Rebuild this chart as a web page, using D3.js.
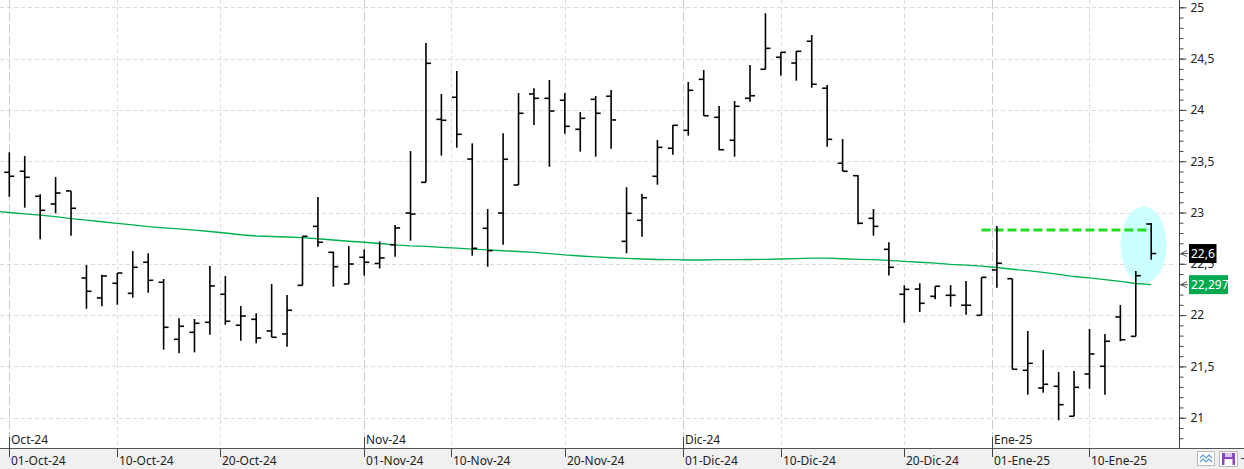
<!DOCTYPE html>
<html>
<head>
<meta charset="utf-8">
<title>OHLC diario</title>
<style>
body { margin: 0; background: #ffffff; }
svg { display: block; font-family: "Noto Sans", "Open Sans", sans-serif; }
</style>
</head>
<body>
<div id="chart"></div>
<script src="https://d3js.org/d3.v7.min.js"></script>
<script>
// Daily bars, 01-Oct-24 .. 16-Ene-25 (trading days only)
var opens = [23.392, 23.402, 23.158, 23.083, 23.21, 22.362, 22.167, 22.31, 22.212, 22.515,
  22.32, 21.764, 21.832, 21.93, 22.203, 21.901, 21.959, 21.845, 21.816, 22.29,
  22.865, 22.612, 22.303, 22.563, 22.503, 22.686, 22.995, 23.294, 23.908, 24.123,
  23.521, 22.846, 22.995, 23.268, 24.155, 24.113, 24.094, 23.811, 24.103, 24.133,
  22.719, 22.924, 23.353, 23.626, 23.801, 24.298, 23.928, 23.704, 24.113, 24.396,
  24.513, 24.457, 24.669, 24.211, 23.48, 23.359, 22.943, 22.641, 22.203, 22.254,
  22.183, 22.193, 22.096, 21.998, 22.44, 22.355, 21.462, 21.289, 21.306, 21.014,
  21.426, 21.501, 21.982, 21.793, 22.888];
var highs = [23.587, 23.551, 23.177, 23.346, 23.21, 22.488, 22.394, 22.41, 22.625, 22.602,
  22.352, 21.969, 21.962, 22.479, 22.381, 22.089, 22.018, 22.303, 22.196, 22.768,
  23.151, 22.618, 22.673, 22.641, 22.717, 22.878, 23.599, 24.652, 24.155, 24.379,
  23.674, 23.034, 23.772, 24.165, 24.211, 24.291, 24.165, 23.98, 24.135, 24.194,
  23.246, 23.18, 23.707, 23.853, 24.272, 24.389, 24.038, 24.087, 24.438, 24.942,
  24.561, 24.574, 24.73, 24.243, 23.716, 23.363, 23.034, 22.71, 22.29, 22.31,
  22.281, 22.293, 22.332, 22.368, 22.868, 22.355, 21.845, 21.66, 21.445, 21.455,
  21.865, 21.816, 22.098, 22.43, 22.898];
var lows = [23.154, 23.047, 22.739, 22.992, 22.774, 22.062, 22.086, 22.101, 22.17, 22.218,
  21.663, 21.628, 21.637, 21.809, 21.906, 21.75, 21.725, 21.784, 21.692, 22.29,
  22.667, 22.277, 22.303, 22.384, 22.454, 22.569, 22.725, 23.294, 23.554, 23.632,
  22.579, 22.472, 22.686, 23.268, 23.853, 23.446, 23.768, 23.593, 23.544, 23.622,
  22.602, 22.764, 23.271, 23.563, 23.749, 23.943, 23.606, 23.544, 24.08, 24.396,
  24.333, 24.285, 24.216, 23.641, 23.402, 22.885, 22.774, 22.386, 21.926, 22.03,
  22.154, 22.082, 22.004, 21.998, 22.267, 21.472, 21.224, 21.244, 20.975, 21.014,
  21.283, 21.224, 21.745, 21.793, 22.54];
var closes = [23.353, 23.343, 23.021, 23.19, 23.041, 22.232, 22.381, 22.41, 22.466, 22.339,
  21.881, 21.891, 21.92, 22.284, 21.94, 21.991, 21.777, 21.784, 22.047, 22.768,
  22.71, 22.472, 22.498, 22.515, 22.557, 22.849, 22.985, 24.454, 23.899, 23.762,
  22.651, 22.628, 23.519, 23.967, 24.113, 23.989, 23.84, 23.918, 23.967, 23.902,
  22.992, 23.144, 23.635, 23.85, 24.191, 23.943, 23.612, 24.035, 24.138, 24.6,
  24.561, 24.571, 24.25, 23.713, 23.402, 22.895, 22.865, 22.466, 22.251, 22.115,
  22.281, 22.193, 22.096, 22.368, 22.505, 21.472, 21.53, 21.326, 21.127, 21.296,
  21.621, 21.745, 21.76, 22.384, 22.6];
// moving average, first value belongs to 30-Sep-24
var ma = [23.015, 23.0, 22.987, 22.974, 22.96, 22.94, 22.925, 22.91, 22.894, 22.88,
  22.863, 22.851, 22.84, 22.828, 22.815, 22.8, 22.783, 22.771, 22.766, 22.761,
  22.756, 22.744, 22.732, 22.72, 22.71, 22.698, 22.685, 22.675, 22.669, 22.66,
  22.652, 22.644, 22.635, 22.627, 22.62, 22.612, 22.6, 22.586, 22.576, 22.568,
  22.559, 22.552, 22.547, 22.542, 22.54, 22.537, 22.537, 22.54, 22.541, 22.542,
  22.544, 22.547, 22.55, 22.555, 22.555, 22.549, 22.544, 22.54, 22.534, 22.524,
  22.515, 22.506, 22.495, 22.488, 22.477, 22.464, 22.447, 22.433, 22.416, 22.396,
  22.376, 22.362, 22.346, 22.328, 22.308, 22.297];

var holidays = ["2024-12-25", "2024-12-26", "2025-01-01"];
var dayTicks = ["2024-10-01", "2024-10-10", "2024-10-20", "2024-11-01", "2024-11-10", "2024-11-20",
  "2024-12-01", "2024-12-10", "2024-12-20", "2025-01-01", "2025-01-10"];
var monthNames = ["Ene", "Feb", "Mar", "Abr", "May", "Jun", "Jul", "Ago", "Sep", "Oct", "Nov", "Dic"];
var yMajor = [21, 21.5, 22, 22.5, 23, 23.5, 24, 24.5, 25];

// annotations
var levelLine = { from: 63, to: 74, value: 22.83 };
var mark = { at: 73.5, value: 22.683 };

var W = 1244, H = 469, plotW = 1179, axisY = 448;

var parse = d3.timeParse("%Y-%m-%d"), iso = d3.timeFormat("%Y-%m-%d");
var days = d3.timeDay.range(new Date(2024, 9, 1), new Date(2025, 0, 17))
  .filter(function(d) { return d.getDay() % 6 !== 0 && holidays.indexOf(iso(d)) < 0; });

function dayIndex(s) {
  var d = parse(s);
  var i = d3.bisectLeft(days, d);
  return +days[i] === +d ? i : i - 0.35;
}

var es = d3.formatLocale({ decimal: ",", thousands: ".", grouping: [3], currency: ["", "€"] });
var fmt = es.format("~g");

var x = d3.scaleLinear().domain([-0.603, 75.8]).range([0, plotW]);
var y = d3.scaleLinear().domain([21, 25]).range([417.7, 7.3]);

var svg = d3.select("#chart").append("svg").attr("width", W).attr("height", H);

svg.append("defs").append("clipPath").attr("id", "plot")
  .append("rect").attr("width", plotW).attr("height", axisY);

// bottom strip
svg.append("rect").attr("x", 0).attr("y", axisY).attr("width", W).attr("height", H - axisY).attr("fill", "#f0f0f0");

// grid
var grid = svg.append("g");
grid.selectAll(".hg").data(yMajor).enter().append("line")
  .attr("x1", 0).attr("x2", plotW - 3)
  .attr("y1", function(d) { return Math.round(y(d)) + 0.5; })
  .attr("y2", function(d) { return Math.round(y(d)) + 0.5; })
  .attr("stroke", "#dcdcdc").attr("stroke-dasharray", "4,3");

var ticks = dayTicks.map(function(s) {
  var d = parse(s);
  return { date: d, pos: dayIndex(s), month: d.getDate() === 1 };
});

grid.selectAll(".vg").data(ticks).enter().append("line")
  .attr("x1", function(d) { return Math.round(x(d.pos)) + 0.5; })
  .attr("x2", function(d) { return Math.round(x(d.pos)) + 0.5; })
  .attr("y1", 0).attr("y2", axisY)
  .attr("stroke", function(d) { return d.month ? "#cccccc" : "#dcdcdc"; })
  .attr("stroke-dasharray", function(d) { return d.month ? "9,3" : "4,3"; });

var plot = svg.append("g").attr("clip-path", "url(#plot)");

plot.append("ellipse")
  .attr("cx", x(mark.at)).attr("cy", y(mark.value))
  .attr("rx", 23).attr("ry", 38.5)
  .attr("fill", "#ccffff");

plot.append("path")
  .datum(ma)
  .attr("fill", "none").attr("stroke", "#00b050").attr("stroke-width", 1.3)
  .attr("d", d3.line().x(function(d, i) { return x(i - 1); }).y(function(d) { return y(d); }));

plot.append("line")
  .attr("x1", x(levelLine.from)).attr("x2", x(levelLine.to))
  .attr("y1", y(levelLine.value)).attr("y2", y(levelLine.value))
  .attr("stroke", "#22dd22").attr("stroke-width", 3).attr("stroke-dasharray", "9,4");

// OHLC bars
var bars = plot.append("g").attr("stroke", "#000").attr("stroke-width", 1.6);
opens.forEach(function(o, i) {
  var cx = x(i);
  bars.append("line").attr("x1", cx).attr("x2", cx).attr("y1", y(highs[i])).attr("y2", y(lows[i]));
  bars.append("line").attr("x1", cx - 5).attr("x2", cx).attr("y1", y(o)).attr("y2", y(o));
  bars.append("line").attr("x1", cx).attr("x2", cx + 5).attr("y1", y(closes[i])).attr("y2", y(closes[i]));
});

// right axis
svg.append("line").attr("x1", plotW + 0.5).attr("x2", plotW + 0.5).attr("y1", 0).attr("y2", axisY)
  .attr("stroke", "#444");

var minor = d3.range(208, 251).map(function(d) { return d / 10; });
svg.append("g").attr("transform", "translate(" + (plotW + 0.5) + ",0)")
  .call(d3.axisRight(y).tickValues(minor).tickSize(4).tickFormat(""))
  .call(function(g) { g.select(".domain").remove(); g.selectAll("line").attr("stroke", "#444"); });

svg.append("g").attr("transform", "translate(" + (plotW + 0.5) + ",0)")
  .call(d3.axisRight(y).tickValues(yMajor).tickSize(7).tickPadding(4).tickFormat(fmt))
  .call(function(g) {
    g.select(".domain").remove();
    g.selectAll("line").attr("stroke", "#444");
    g.selectAll("text").attr("fill", "#222").style("font-size", "12px").style("font-family", "'Noto Sans', sans-serif");
  });

// last price / average labels
function priceTag(v, bg, w) {
  var cy = y(v);
  var g = svg.append("g");
  g.append("path")
    .attr("d", "M" + (plotW + 8) + "," + (cy - 3) + "L" + (plotW + 2) + "," + cy + "L" + (plotW + 8) + "," + (cy + 3) +
      "M" + (plotW + 2) + "," + cy + "H" + (plotW + 9))
    .attr("fill", "none").attr("stroke", "#555");
  g.append("rect").attr("x", 1189).attr("y", cy - 9.5).attr("width", w).attr("height", 19).attr("fill", bg);
  g.append("text").attr("x", 1191).attr("y", cy + 4.5).attr("fill", "#fff")
    .style("font-size", "12px").text(es.format(".5~g")(v));
}
priceTag(ma[ma.length - 1], "#00a84f", 39);
priceTag(closes[closes.length - 1], "#000", 27.5);

// bottom axis
svg.append("line").attr("x1", 0).attr("x2", W).attr("y1", axisY + 0.5).attr("y2", axisY + 0.5).attr("stroke", "#555");

var xt = svg.append("g");
xt.selectAll(".bt").data(ticks).enter().append("line")
  .attr("x1", function(d) { return Math.round(x(d.pos)) + 0.5; })
  .attr("x2", function(d) { return Math.round(x(d.pos)) + 0.5; })
  .attr("y1", axisY).attr("y2", axisY + 9).attr("stroke", "#444");
xt.selectAll(".bl").data(ticks).enter().append("text")
  .attr("x", function(d) { return Math.round(x(d.pos)) + 2; })
  .attr("y", 465).attr("fill", "#222").style("font-size", "12px")
  .text(function(d) { return d3.timeFormat("%d")(d.date) + "-" + monthNames[d.date.getMonth()] + "-" + d3.timeFormat("%y")(d.date); });

var months = ticks.filter(function(d) { return d.month; });
xt.selectAll(".mt").data(months).enter().append("line")
  .attr("x1", function(d) { return Math.round(x(d.pos)) + 0.5; })
  .attr("x2", function(d) { return Math.round(x(d.pos)) + 0.5; })
  .attr("y1", axisY - 11).attr("y2", axisY).attr("stroke", "#444");
xt.selectAll(".ml").data(months).enter().append("text")
  .attr("x", function(d) { return Math.round(x(d.pos)) + 2; })
  .attr("y", 444).attr("fill", "#222").style("font-size", "12px")
  .text(function(d) { return monthNames[d.date.getMonth()] + "-" + d3.timeFormat("%y")(d.date); });

// small toolbar icons
var ic = svg.append("g");
ic.append("rect").attr("x", 1197.5).attr("y", 451.5).attr("width", 17).attr("height", 14).attr("fill", "#fff").attr("stroke", "#bbb");
ic.append("path").attr("d", "M1200,458 l3,-3 l3,3 l3,-3 l3,3 M1200,462 l3,-3 l3,3 l3,-3 l3,3")
  .attr("fill", "none").attr("stroke", "#5b9bd5").attr("stroke-width", 1.2);
ic.append("rect").attr("x", 1219.5).attr("y", 451.5).attr("width", 18).attr("height", 15).attr("fill", "#fff").attr("stroke", "#bbb");
ic.append("rect").attr("x", 1222).attr("y", 453).attr("width", 13).attr("height", 12).attr("fill", "#8a45c2");
ic.append("rect").attr("x", 1225).attr("y", 453).attr("width", 7).attr("height", 4).attr("fill", "#d9c4ee");
ic.append("rect").attr("x", 1224.5).attr("y", 459).attr("width", 8).attr("height", 6).attr("fill", "#fff");
ic.append("line").attr("x1", 1241).attr("x2", 1244).attr("y1", 458.5).attr("y2", 458.5).attr("stroke", "#444");
</script>
</body>
</html>
